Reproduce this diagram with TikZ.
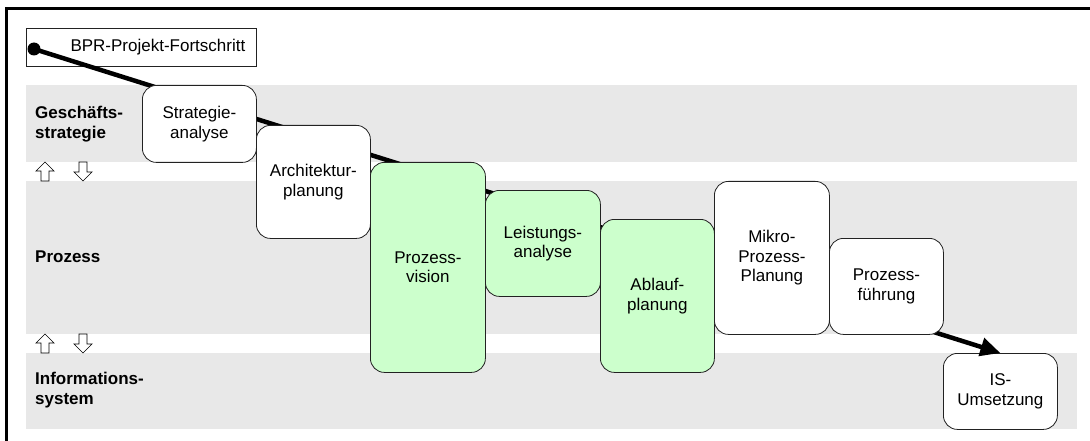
\documentclass[tikz,border=0pt]{standalone}
\usepackage{fontspec}
\setmainfont{Liberation Sans}
\usepackage{xcolor}
\definecolor{lineDark}{HTML}{222222}
\definecolor{bandColor}{HTML}{E8E8E8}
\definecolor{phaseGreen}{HTML}{CCFFCC}
\usepackage{tikz}
\usetikzlibrary{arrows.meta}
\newcommand{\diagFont}{\fontsize{17}{19.5}\selectfont}
\tikzset{
  whiteBox/.style={
    rectangle,
    rounded corners=14pt,
    draw=lineDark,
    line width=0.8pt,
    fill=white,
    minimum width=114pt,
    inner sep=0pt,
    anchor=north west,
    align=center,
    font=\diagFont
 },
  greenBox/.style={
    whiteBox,
    fill=phaseGreen
 },
  bandLabel/.style={
    anchor=west,
    align=left,
    inner sep=0pt,
    font=\diagFont\bfseries
 },
  progressLine/.style={
    -{Triangle[length=20pt,width=18pt]},
    line width=4.5pt,
    color=black
 },
  upArrow/.pic={
    \draw[line width=0.7pt, fill=white, line join=miter]
      (0,-9.5) -- (9,-0.5) -- (4,-0.5) -- (4,9.5) -- (-4,9.5)
      -- (-4,-0.5) -- (-9,-0.5) -- cycle;
 },
  downArrow/.pic={
    \draw[line width=0.7pt, fill=white, line join=miter]
      (0,9.5) -- (9,0.5) -- (4,0.5) -- (4,-9.5) -- (-4,-9.5)
      -- (-4,0.5) -- (-9,0.5) -- cycle;
 }
}

\begin{document}
\begin{tikzpicture}[x=1pt, y=-1pt]
  \useasboundingbox (0,0) rectangle (1090,441);

  % frame and bands
  \draw[line width=3pt] (6.5,441) -- (6.5,8.5) -- (1090,8.5);
  \fill[bandColor] (26,85) rectangle (1077,162);
  \fill[bandColor] (26,181) rectangle (1077,334);
  \fill[bandColor] (26,353) rectangle (1077,429);

  \node[bandLabel] (lblStrategy) at (35,124) {Geschäfts-\\strategie};
  \node[bandLabel] (lblProcess) at (35,257) {Prozess};
  \node[bandLabel] (lblSystem) at (35,390) {Informations-\\system};

  \pic at (45,171.5) {upArrow};
  \pic at (83,171.5) {downArrow};
  \pic at (45,343.5) {upArrow};
  \pic at (83,343.5) {downArrow};

  % legend box
  \node[draw=lineDark, line width=0.8pt, fill=white, minimum width=230pt,
        minimum height=38pt, anchor=north west] (legend) at (26,28) {};
  \node[anchor=east, font=\diagFont] (legendText) at ([xshift=-8pt]legend.east) {BPR-Projekt-Fortschritt};
  \node[circle, fill=black, minimum size=13pt, inner sep=0pt] (start) at (34,49) {};

  \node[whiteBox, minimum height=76pt] (isum) at (943,353) {IS-\\Umsetzung};

  % progress line behind the phases
  \draw[progressLine] (start.center) -- (isum.north);

  \node[whiteBox, minimum height=77pt] (strat) at (142,85) {Strategie-\\analyse};
  \node[whiteBox, minimum height=113pt] (arch) at (256,125) {Architektur-\\planung};
  \node[greenBox, minimum height=210pt, minimum width=115pt] (vision) at (370,162) {Prozess-\\vision};
  \node[greenBox, minimum height=106pt, minimum width=115pt] (leist) at (485,190) {Leistungs-\\analyse};
  \node[greenBox, minimum height=153pt] (ablauf) at (600,219) {Ablauf-\\planung};
  \node[whiteBox, minimum height=153pt, minimum width=115pt] (mikro) at (714,181) {Mikro-\\Prozess-\\Planung};
  \node[whiteBox, minimum height=96pt] (fuehr) at (829,238) {Prozess-\\führung};
\end{tikzpicture}
\end{document}
